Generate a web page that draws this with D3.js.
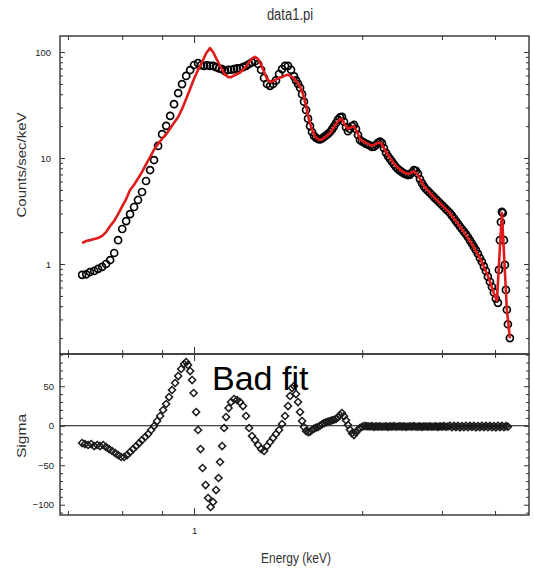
<!DOCTYPE html>
<html>
<head>
<meta charset="utf-8">
<script src="https://cdn.jsdelivr.net/npm/d3@7"></script>
<style>
body { margin: 0; background: #fff; }
svg { display: block; font-family: "Liberation Sans", Arial, sans-serif; }
</style>
</head>
<body>
<svg id="chart" width="533" height="569"></svg>
<script>
// observed spectrum (keV, counts/sec/keV)
var dataEnergy = [0.499, 0.512, 0.524, 0.538, 0.551, 0.565, 0.579, 0.594, 0.609, 0.624, 0.640, 0.656, 0.672, 0.689, 0.706, 0.724, 0.742, 0.761, 0.780, 0.800, 0.820, 0.841, 0.862, 0.883, 0.906, 0.928, 0.952, 0.976, 1.000, 1.025,
    1.044, 1.064, 1.084, 1.104, 1.125, 1.146, 1.168, 1.190, 1.212, 1.235, 1.258, 1.282, 1.306, 1.330, 1.355, 1.381, 1.407, 1.433, 1.460, 1.488, 1.516, 1.544, 1.573, 1.603, 1.633, 1.663, 1.695, 1.727, 1.759, 1.792, 1.826, 1.860,
    1.883, 1.907, 1.931, 1.955, 1.979, 2.004, 2.029, 2.054, 2.080, 2.106, 2.132, 2.159, 2.185, 2.213, 2.241, 2.269, 2.297, 2.326, 2.355, 2.384, 2.414, 2.444, 2.475, 2.505, 2.537, 2.568, 2.600, 2.633, 2.666, 2.699, 2.733, 2.767, 2.801, 2.836, 2.872, 2.908, 2.944,
    2.981, 3.018, 3.056, 3.094, 3.132, 3.172, 3.211, 3.251, 3.292, 3.333, 3.374, 3.416, 3.459, 3.502, 3.546, 3.590, 3.635, 3.681, 3.727, 3.773, 3.820, 3.868, 3.916, 3.965, 4.015, 4.065, 4.116, 4.167, 4.219, 4.272, 4.325, 4.379,
    4.434, 4.489, 4.545, 4.602, 4.660, 4.718, 4.777, 4.836, 4.897, 4.958, 5.020, 5.082, 5.146, 5.210, 5.275, 5.341, 5.408, 5.475, 5.544, 5.613, 5.683, 5.754, 5.826, 5.898, 5.972, 6.047, 6.122, 6.199, 6.276, 6.354, 6.434, 6.514,
    6.596, 6.636, 6.678, 6.719, 6.761, 6.803, 6.846, 6.888, 6.931, 6.974, 7.018, 7.106];
var dataCounts = [0.79, 0.80, 0.84, 0.86, 0.90, 0.94, 1.00, 1.09, 1.27, 1.68, 2.14, 2.54, 2.96, 3.45, 4.02, 4.78, 6.07, 7.70, 9.57, 13.0, 16.8, 20.1, 25.0, 32.2, 41.0, 49.8, 59.5, 67.6, 75.4, 78.5,
    75, 74, 75, 74, 74, 72, 70, 69, 66, 68, 68, 69, 70, 70, 72, 74, 77, 80, 82, 77, 68, 57, 50, 48, 50, 54, 62, 69, 74, 74, 68, 59,
    54, 50, 46, 40, 34, 28.4, 23.5, 20.0, 17.6, 16.2, 15.5, 15.1, 15.0, 15.3, 15.8, 16.3, 16.9, 17.6, 18.6, 19.9, 21.4, 23.0, 24.2, 24.4, 22.0, 19.5, 17.9, 18.8, 20.0, 20.5, 18.8, 16.5, 14.8, 14.3, 14.0, 13.6, 13.4,
    13.1, 12.7, 12.8, 13.3, 13.9, 14.3, 13.8, 12.4, 11.2, 10.4, 9.8, 9.25, 8.7, 8.23, 7.85, 7.60, 7.37, 7.15, 7.0, 6.91, 6.98, 7.3, 7.70, 7.55, 7.1, 6.33, 5.8, 5.4, 5.10, 4.88, 4.68, 4.48,
    4.28, 4.10, 3.93, 3.76, 3.60, 3.45, 3.30, 3.16, 3.03, 2.86, 2.70, 2.54, 2.40, 2.26, 2.14, 2.02, 1.91, 1.80, 1.67, 1.56, 1.45, 1.35, 1.25, 1.14, 1.05, 0.95, 0.86, 0.76, 0.68, 0.61, 0.54, 0.47,
    0.43, 0.88, 1.68, 2.49, 3.10, 3.03, 1.68, 0.98, 0.57, 0.37, 0.27, 0.20];

// folded model
var modelEnergy = [0.499, 0.512, 0.524, 0.538, 0.551, 0.565, 0.579, 0.594, 0.609, 0.624, 0.640, 0.656, 0.672, 0.689, 0.706, 0.724, 0.742, 0.761, 0.780, 0.800, 0.820, 0.841, 0.862, 0.883, 0.906, 0.928, 0.952, 0.976, 1.000, 1.025,
    1.051, 1.077, 1.104, 1.125, 1.146, 1.168, 1.190, 1.212, 1.235, 1.258, 1.282, 1.306, 1.330, 1.355, 1.381, 1.407, 1.433, 1.460, 1.488, 1.516, 1.544, 1.573, 1.603, 1.633, 1.663, 1.695, 1.727, 1.759, 1.792, 1.826,
    1.860, 1.895, 1.931, 1.967, 2.004, 2.041, 2.080, 2.119, 2.159, 2.199, 2.241, 2.326, 2.414, 2.459, 2.505, 2.552, 2.600, 2.649, 2.699, 2.750, 2.801, 2.908, 3.018, 3.132, 3.191, 3.271, 3.374, 3.502, 3.635, 3.773,
    3.916, 4.015, 4.167, 4.379, 4.602, 4.836, 5.082, 5.341, 5.613, 5.898, 6.199, 6.434, 6.555, 6.761, 6.974, 7.106];
var modelCounts = [1.58, 1.65, 1.68, 1.72, 1.76, 1.84, 2.00, 2.28, 2.55, 2.95, 3.5, 4.1, 4.99, 5.6, 6.4, 7.4, 8.7, 10.2, 12.0, 13.6, 15.2, 16.8, 19.0, 21.5, 24.4, 29.0, 36.0, 45.0, 56.0, 68.0,
    80, 97, 109, 100, 88, 77, 68, 61, 58, 58, 60, 62, 64, 68, 73, 80, 87, 90, 86, 76, 65, 56, 52, 53, 55, 57, 58, 60, 61, 59,
    56, 52, 47, 40, 31, 23, 18.5, 16, 15, 14.8, 15.4, 17.2, 20.9, 22.8, 23.3, 20.5, 18.8, 19.6, 19.9, 17.6, 15.1, 13.9, 13.0, 13.9, 13.9, 11.9, 10.0, 8.4, 7.5, 7.05,
    7.5, 6.9, 5.4, 4.48, 3.76, 3.16, 2.54, 2.0, 1.54, 1.14, 0.77, 0.53, 0.45, 3.03, 0.37, 0.20];

// residuals (keV, sigma)
var resEnergy = [0.499, 0.508, 0.518, 0.528, 0.538, 0.548, 0.558, 0.569, 0.579, 0.590, 0.601, 0.613, 0.624, 0.636, 0.648, 0.660, 0.672, 0.685, 0.698, 0.711, 0.724, 0.738, 0.752, 0.766, 0.780, 0.795, 0.810, 0.825, 0.841, 0.856, 0.872, 0.889, 0.906, 0.923, 0.940,
    0.952, 0.963, 0.976, 0.988, 0.997, 1.013, 1.025, 1.041, 1.054, 1.074, 1.091, 1.108, 1.125, 1.146, 1.164, 1.175, 1.190, 1.205, 1.220, 1.239, 1.258, 1.282, 1.306, 1.330, 1.355, 1.381, 1.407, 1.433, 1.460, 1.488,
    1.516, 1.544, 1.573, 1.603, 1.633, 1.663, 1.695, 1.727, 1.759, 1.792, 1.814, 1.837, 1.860, 1.883, 1.907, 1.931, 1.955,
    1.979, 2.004, 2.029, 2.054, 2.080, 2.106, 2.132, 2.159, 2.185, 2.213, 2.241, 2.269, 2.297, 2.326, 2.355, 2.384, 2.414, 2.444, 2.475, 2.505, 2.537, 2.568, 2.600, 2.633, 2.666, 2.699, 2.733, 2.767, 2.801, 2.836, 2.872, 2.908, 2.944,
    2.981, 3.018, 3.056, 3.094, 3.132, 3.172, 3.211, 3.251, 3.292, 3.333, 3.374, 3.416, 3.459, 3.502, 3.546, 3.590, 3.635, 3.681, 3.727, 3.773, 3.820, 3.868, 3.916, 3.965, 4.015, 4.065, 4.116, 4.167, 4.219, 4.272, 4.325, 4.379,
    4.434, 4.489, 4.545, 4.602, 4.660, 4.718, 4.777, 4.836, 4.897, 4.958, 5.020, 5.082, 5.146, 5.210, 5.275, 5.341, 5.408, 5.475, 5.544, 5.613, 5.683, 5.754, 5.826, 5.898, 5.972, 6.047, 6.122, 6.199, 6.276, 6.354, 6.434, 6.514,
    6.596, 6.678, 6.761, 6.846, 6.931, 7.018];
var resSigma = [-21.9, -23.2, -24.4, -23.2, -25.7, -24.4, -25.7, -24.4, -27.0, -29.5, -32.0, -34.6, -37.1, -39.6, -39.6, -37.1, -33.3, -29.5, -25.7, -21.9, -18.1, -14.3, -10.5, -5.4, -0.4, 5.9, 12.3, 19.9, 27.5, 36.3, 45.2, 54.1, 62.9, 71.8, 78.1,
    80.6, 76.8, 69.2, 57.8, 41.4, 17.3, -5.4, -29.5, -53.5, -75.1, -91.5, -102.9, -96.6, -81.4, -66.2, -45.9, -25.7, -2.9, 11.0, 22.4, 30.0, 33.8, 32.5, 30.0, 24.9, 12.3, -2.9, -13.0, -18.1, -24.4,
    -29.5, -32.0, -25.7, -20.6, -15.6, -10.5, -5.4, 2.2, 12.3, 24.9, 37.6, 47.7, 50.3, 40.1, 30.0, 17.3, 5.9,
    -1.6, -6.7, -8.2, -7.5, -5.4, -3.6, -2.4, -1.6, 0.0, 1.8, 3.4, 4.3, 5.1, 5.9, 6.8, 7.6, 8.5, 10.8, 13.5, 16.1, 12.0, 6.8, 0.9, -5.2, -9.6, -11.8, -8.5, -5.2, -2.9, -1.5, -0.4, -0.6, -0.8,
    -1.0, -0.6, -1.4, -0.9, -1.2, -0.7, -1.3, -1.0, -0.8, -1.4, -0.9, -1.1, -0.6, -1.3, -1.0, -0.8, -1.2, -0.7, -1.4, -1.0, -0.9, -1.2, -0.6, -1.3, -1.1, -0.8, -1.4, -0.9, -1.0, -1.2, -0.7, -1.3,
    -1.0, -0.8, -1.4, -0.9, -1.1, -0.6, -1.3, -1.0, -0.1, -1.9, -0.3, -1.7, -0.2, -2.0, -0.4, -1.8, -0.1, -1.9, -0.3, -1.6, -0.2, -2.0, -0.4, -1.8, -0.1, -1.7, -0.3, -1.9, -0.2, -1.8, -0.4, -2.0,
    -0.1, -1.7, -0.3, -1.9, -0.5, -1.2];

var energyTicks = [0.457, 0.64, 0.82, 1, 2.84, 4.66, 6.48];
var energyLabelled = [1];
var countTicks = [1, 10, 100];
var sigmaTicks = [-100, -50, 0, 50];

var svg = d3.select("#chart");
var leftX = 60, rightX = 529, topY = 36, midY = 354, botY = 515;
var frameColor = "#333";
var stretch = 1.2; // the reference picture is stretched vertically

var x = d3.scaleLog().domain([0.435, 8.0]).range([leftX, rightX]);
var yTop = d3.scaleLog().domain([0.1416, 141.6]).range([midY, topY]);
var ySig = d3.scaleLinear().domain([-113, 90.8]).range([botY, midY]);

function styleAxis(g) {
    g.select(".domain").remove();
    g.selectAll(".tick line").attr("stroke", frameColor).attr("stroke-width", 1);
    g.selectAll(".tick text")
        .attr("fill", "#222")
        .attr("font-size", 9.5)
        .attr("font-family", "'Liberation Sans', Arial, sans-serif");
}

// energy axes: top edge, shared middle edge (both sides) and bottom edge
var minorE = energyTicks.filter(function (d) { return energyLabelled.indexOf(d) < 0; });
[
    { y: topY, make: d3.axisTop },
    { y: midY, make: d3.axisBottom },
    { y: midY, make: d3.axisTop },
    { y: botY, make: d3.axisBottom }
].forEach(function (a, i) {
    svg.append("g")
        .attr("transform", "translate(0," + a.y + ")")
        .call(a.make(x).tickValues(minorE).tickSize(-4).tickFormat(""))
        .call(styleAxis);
    var major = a.make(x).tickValues(energyLabelled).tickSize(-7).tickPadding(12)
        .tickFormat(i == 3 ? d3.format("d") : "");
    svg.append("g")
        .attr("transform", "translate(0," + a.y + ")")
        .call(major)
        .call(styleAxis);
});

// counts axes
var minorCounts = yTop.ticks().filter(function (d) { return countTicks.indexOf(d) < 0; });
svg.append("g").attr("transform", "translate(" + leftX + ",0)")
    .call(d3.axisLeft(yTop).tickValues(minorCounts).tickSize(-3).tickFormat(""))
    .call(styleAxis);
svg.append("g").attr("transform", "translate(" + leftX + ",0)")
    .call(d3.axisLeft(yTop).tickValues(countTicks).tickSize(-5).tickPadding(9).tickFormat(d3.format("d")))
    .call(styleAxis);
svg.append("g").attr("transform", "translate(" + rightX + ",0)")
    .call(d3.axisRight(yTop).tickValues(minorCounts).tickSize(-3).tickFormat(""))
    .call(styleAxis);
svg.append("g").attr("transform", "translate(" + rightX + ",0)")
    .call(d3.axisRight(yTop).tickValues(countTicks).tickSize(-5).tickFormat(""))
    .call(styleAxis);

// sigma axes
var minorSigma = d3.range(-110, 91, 10).filter(function (d) { return sigmaTicks.indexOf(d) < 0; });
svg.append("g").attr("transform", "translate(" + leftX + ",0)")
    .call(d3.axisLeft(ySig).tickValues(minorSigma).tickSize(-3).tickFormat(""))
    .call(styleAxis);
svg.append("g").attr("transform", "translate(" + leftX + ",0)")
    .call(d3.axisLeft(ySig).tickValues(sigmaTicks).tickSize(-5).tickPadding(6).tickFormat(d3.format("d")))
    .call(styleAxis);
svg.append("g").attr("transform", "translate(" + rightX + ",0)")
    .call(d3.axisRight(ySig).tickValues(minorSigma).tickSize(-3).tickFormat(""))
    .call(styleAxis);
svg.append("g").attr("transform", "translate(" + rightX + ",0)")
    .call(d3.axisRight(ySig).tickValues(sigmaTicks).tickSize(-5).tickFormat(""))
    .call(styleAxis);

// zero line
svg.append("line")
    .attr("x1", leftX).attr("x2", rightX)
    .attr("y1", ySig(0)).attr("y2", ySig(0))
    .attr("stroke", "#111")
    .attr("stroke-width", 1.2);

// data circles
svg.append("g")
    .selectAll("circle")
    .data(d3.zip(dataEnergy, dataCounts))
    .enter()
    .append("circle")
    .attr("cx", function (d) { return x(d[0]); })
    .attr("cy", function (d) { return yTop(d[1]); })
    .attr("r", 3.5)
    .attr("fill", "none")
    .attr("stroke", "#000")
    .attr("stroke-width", 1.7);

// model line
var line = d3.line()
    .x(function (d) { return x(d[0]); })
    .y(function (d) { return yTop(d[1]); });

svg.append("path")
    .datum(d3.zip(modelEnergy, modelCounts))
    .attr("fill", "none")
    .attr("stroke", "#e01b1b")
    .attr("stroke-width", 2.6)
    .attr("stroke-linejoin", "round")
    .attr("d", line);

// residual diamonds
var diamond = d3.symbol().type(d3.symbolSquare).size(25);
svg.append("g")
    .selectAll("path")
    .data(d3.zip(resEnergy, resSigma))
    .enter()
    .append("path")
    .attr("d", diamond)
    .attr("transform", function (d) {
        return "translate(" + x(d[0]) + "," + ySig(d[1]) + ") rotate(45)";
    })
    .attr("fill", "none")
    .attr("stroke", "#1a1a1a")
    .attr("stroke-width", 1.5);

// frames
svg.append("rect")
    .attr("x", leftX).attr("y", topY)
    .attr("width", rightX - leftX).attr("height", midY - topY)
    .attr("fill", "none").attr("stroke", frameColor).attr("stroke-width", 1.4);
svg.append("rect")
    .attr("x", leftX).attr("y", midY)
    .attr("width", rightX - leftX).attr("height", botY - midY)
    .attr("fill", "none").attr("stroke", frameColor).attr("stroke-width", 1.4);

// labels
svg.append("text")
    .attr("transform", "translate(290,20) scale(1," + stretch + ")")
    .attr("text-anchor", "middle")
    .attr("font-size", 13)
    .attr("fill", "#333")
    .text("data1.pi");

svg.append("text")
    .attr("transform", "translate(296,563) scale(1," + stretch + ")")
    .attr("text-anchor", "middle")
    .attr("font-size", 12)
    .attr("fill", "#333")
    .text("Energy (keV)");

svg.append("text")
    .attr("transform", "translate(26,165) scale(1," + stretch + ") rotate(-90)")
    .attr("text-anchor", "middle")
    .attr("font-size", 12.5)
    .attr("fill", "#333")
    .text("Counts/sec/keV");

svg.append("text")
    .attr("transform", "translate(26,436) scale(1," + stretch + ") rotate(-90)")
    .attr("text-anchor", "middle")
    .attr("font-size", 13)
    .attr("fill", "#333")
    .text("Sigma");

svg.append("text")
    .attr("x", 212).attr("y", 390)
    .attr("font-size", 34)
    .attr("fill", "#000")
    .text("Bad fit");
</script>
</body>
</html>
